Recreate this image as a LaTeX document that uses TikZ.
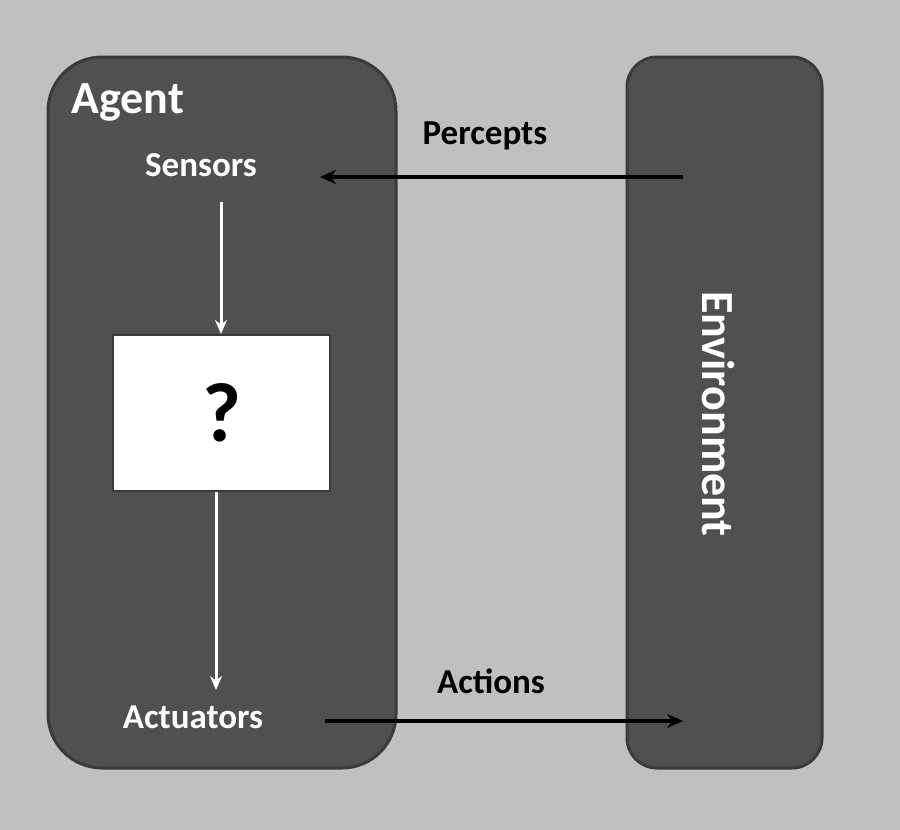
\documentclass[tikz,border=0pt]{standalone}
\usepackage{fontspec}
\setmainfont{Carlito}
\usetikzlibrary{arrows.meta}
\definecolor{bg}{HTML}{C0C0C0}
\definecolor{panel}{HTML}{505050}
\definecolor{panelborder}{HTML}{3A3A3A}
\tikzset{
  panelbox/.style={fill=panel, draw=panelborder, line width=1.5},
  lbl/.style={font=\bfseries\fontsize{17.5}{20}\selectfont, inner sep=0},
  whitelbl/.style={lbl, text=white},
  blackarrow/.style={draw=black, line width=2, -{Stealth[length=8, width=7]}},
  whitearrow/.style={draw=white, line width=1.5, -{Stealth[length=7, width=6]}},
}
\begin{document}
\begin{tikzpicture}[x=0.5pt, y=-0.5pt]
\fill[bg] (0,0) rectangle (900,830);
\useasboundingbox (0,0) rectangle (900,830);
% panels
\draw[panelbox, rounded corners=27] (48,57) rectangle (396,768);
\draw[panelbox, rounded corners=15] (627,57) rectangle (822,768);
% texts
\node[whitelbl, font=\bfseries\fontsize{23}{26}\selectfont, anchor=west] (agent) at (71,102) {Agent};
\node[whitelbl] (sensors) at (201,165) {Sensors};
\node[whitelbl] (actuators) at (193,717) {Actuators};
\node[lbl] (percepts) at (485,136) {Percepts};
\node[lbl] (actions) at (491,681) {Actions};
\node[whitelbl, font=\bfseries\fontsize{23}{26}\selectfont, rotate=-90] (env) at (718,414) {Environment};
% question box
\node[fill=white, draw=panelborder, line width=1, minimum width=108.5pt, minimum height=78pt, inner sep=0] (q) at (221.5,413) {};
\node[font=\bfseries\fontsize{42}{46}\selectfont, inner sep=0] (qm) at (q.center) {?};
% coordinates
\coordinate (pstart) at (683,177);
\coordinate (pend) at (320,177);
\coordinate (astart) at (325,721);
\coordinate (aend) at (683,721);
\coordinate (s1) at (221,202);
\coordinate (a1) at (216,690);
% arrows
\draw[blackarrow] (pstart) -- (pend);
\draw[blackarrow] (astart) -- (aend);
\draw[whitearrow] (s1) -- (s1 |- q.north);
\draw[whitearrow] (a1 |- q.south) -- (a1);
\end{tikzpicture}
\end{document}
